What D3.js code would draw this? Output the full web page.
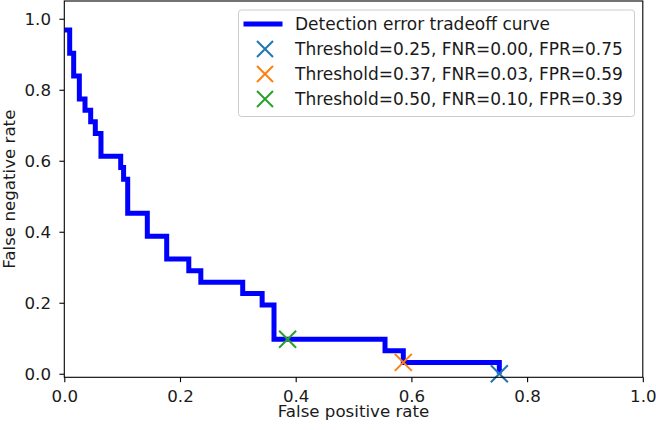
<!DOCTYPE html>
<html>
<head>
<meta charset="utf-8">
<script src="https://cdn.jsdelivr.net/npm/d3@7"></script>
<style>
  html, body { margin: 0; padding: 0; background: #fff; }
  svg { display: block; font-family: "DejaVu Sans", sans-serif; }
</style>
</head>
<body>
<svg id="chart" width="656" height="430"></svg>
<script>
// ---- data ----
const fpr = [0, 0.0093, 0.0162, 0.026, 0.0358, 0.0456, 0.0536, 0.0634, 0.0975, 0.1025, 0.1096, 0.1435, 0.177, 0.2152, 0.236, 0.3084, 0.342, 0.3625, 0.5544, 0.586, 0.752];
const fnr = [0.968, 0.903, 0.839, 0.774, 0.742, 0.710, 0.677, 0.613, 0.581, 0.548, 0.452, 0.387, 0.323, 0.290, 0.258, 0.226, 0.194, 0.097, 0.065, 0.032, 0.0];
const thresholdLabels = ["Threshold=0.25, FNR=0.00, FPR=0.75", "Threshold=0.37, FNR=0.03, FPR=0.59", "Threshold=0.50, FNR=0.10, FPR=0.39"];
const thresholdFPR = [0.752, 0.586, 0.386];
const thresholdFNR = [0.0, 0.032, 0.097];
const markerColors = ["#1f77b4", "#ff7f0e", "#2ca02c"];
const xTicks = [0, 0.2, 0.4, 0.6, 0.8, 1.0];
const yTicks = [0, 0.2, 0.4, 0.6, 0.8, 1.0];
const curveLabel = "Detection error tradeoff curve";

// ---- layout ----
const svg = d3.select("#chart");
const L = 64.3, R = 642.8, T = 1, B = 377.3;
const x = d3.scaleLinear().domain([0, 1]).range([L, R]);
const y = d3.scaleLinear().domain([-0.01, 1.05]).range([B, T]);
const fs = 16.67;
const lfs = 17;
const txt = "#1a1a1a";

// curve
const pts = fpr.map((d, i) => [d, fnr[i]]);
svg.append("clipPath").attr("id", "clip").append("rect")
  .attr("x", L).attr("y", T).attr("width", R - L).attr("height", B - T);
svg.append("path")
  .datum(pts)
  .attr("clip-path", "url(#clip)")
  .attr("fill", "none")
  .attr("stroke", "#0000ff")
  .attr("stroke-width", 5)
  .attr("stroke-linejoin", "miter")
  .attr("d", d3.line().x(d => x(d[0])).y(d => y(d[1])).curve(d3.curveStepAfter));

// markers
function xMark(g, cx, cy, s, color) {
  g.append("path")
    .attr("d", `M${cx - s},${cy - s}L${cx + s},${cy + s}M${cx - s},${cy + s}L${cx + s},${cy - s}`)
    .attr("stroke", color).attr("stroke-width", 2).attr("fill", "none");
}
const mg = svg.append("g");
thresholdFPR.forEach((d, i) => xMark(mg, x(d), y(thresholdFNR[i]), 8.5, markerColors[i]));

// axes frame
svg.append("rect").attr("x", L).attr("y", T).attr("width", R - L).attr("height", B - T)
  .attr("fill", "none").attr("stroke", "#000").attr("stroke-width", 1.1);

const xAxis = svg.append("g").attr("transform", `translate(0,${B})`)
  .call(d3.axisBottom(x).tickValues(xTicks).tickFormat(d3.format(".1f")).tickSize(4.9).tickPadding(8.3).tickSizeOuter(0));
const yAxis = svg.append("g").attr("transform", `translate(${L},0)`)
  .call(d3.axisLeft(y).tickValues(yTicks).tickFormat(d3.format(".1f")).tickSize(4.9).tickPadding(8.4).tickSizeOuter(0));
[xAxis, yAxis].forEach(a => {
  a.select(".domain").remove();
  a.selectAll("line").attr("stroke", "#000").attr("stroke-width", 1.1);
  a.selectAll("text").attr("font-size", fs).attr("fill", txt).attr("font-family", "DejaVu Sans");
});

// axis labels
svg.append("text").attr("x", (L + R) / 2).attr("y", 417).attr("text-anchor", "middle")
  .attr("font-size", fs).attr("fill", txt).text("False positive rate");
svg.append("text").attr("transform", `translate(14.5,${(T + B) / 2}) rotate(-90)`).attr("text-anchor", "middle")
  .attr("font-size", fs).attr("fill", txt).text("False negative rate");

// legend
const lg = svg.append("g");
lg.append("rect").attr("x", 238.5).attr("y", 10).attr("width", 396).attr("height", 106.5)
  .attr("rx", 3).attr("fill", "#fff").attr("fill-opacity", 0.8).attr("stroke", "#cccccc").attr("stroke-width", 1);
lg.append("line").attr("x1", 243.5).attr("x2", 282.5).attr("y1", 24).attr("y2", 24)
  .attr("stroke", "#0000ff").attr("stroke-width", 5);
lg.append("text").attr("x", 295).attr("y", 24).attr("dy", "0.36em").attr("font-size", lfs).attr("fill", txt).text(curveLabel);
thresholdLabels.forEach((t, i) => {
  const cy = 49 + i * 25;
  xMark(lg, 265, cy, 8, markerColors[i]);
  lg.append("text").attr("x", 295).attr("y", cy).attr("dy", "0.36em").attr("font-size", lfs).attr("fill", txt).text(t);
});
</script>
</body>
</html>
